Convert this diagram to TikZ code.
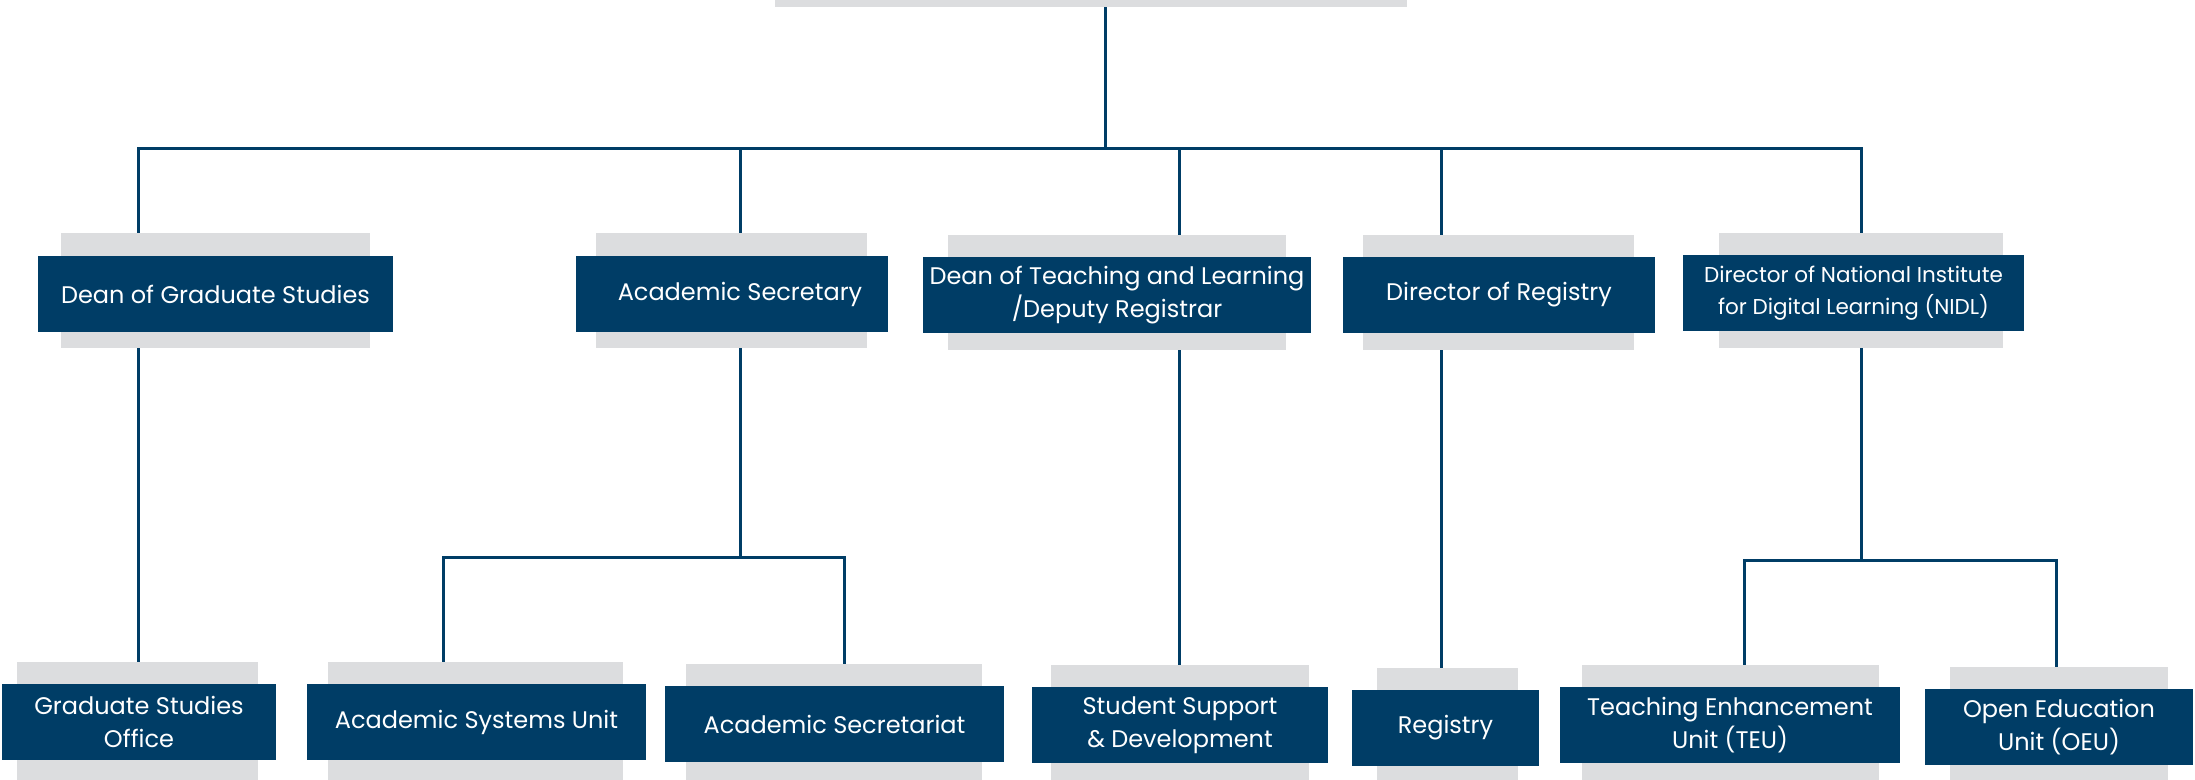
\documentclass[tikz,border=0pt]{standalone}
\usepackage{fontspec}
\setmainfont{Poppins}
\usetikzlibrary{calc}
\definecolor{navy}{RGB}{0,61,102}
\definecolor{shade}{RGB}{220,221,223}

\begin{document}
\begin{tikzpicture}[x=1pt, y=-1pt,
  unit/.style={fill=navy, text=white, align=center, minimum height=76pt, inner sep=0pt,
    font=\fontsize{24}{33}\selectfont},
  backing/.style={fill=shade, minimum height=115pt, inner sep=0pt},
  lowbacking/.style={backing, minimum height=120pt},
  link/.style={navy, line width=3pt}]
  \useasboundingbox (0,0) rectangle (2195,779);
  \clip (0,0) rectangle (2195,779);

  % top of the chart
  \node [backing, minimum width=632pt, minimum height=40pt] (head) at (1091,-13) {};

  % first level
  \node [backing, minimum width=309pt] (dgs-bg) at (215.5,290.5) {};
  \node [unit, minimum width=355pt] (dgs) at (215.5,294) {Dean of Graduate Studies};
  \node [backing, minimum width=271pt] (as-bg) at (731.5,290.5) {};
  \node [unit, minimum width=312pt] (as) at (732,294) {\hspace{16pt}Academic Secretary};
  \node [backing, minimum width=338pt] (dtl-bg) at (1117,292.5) {};
  \node [unit, minimum width=388pt] (dtl) at (1117,295) {Dean of Teaching and Learning\\/Deputy Registrar};
  \node [backing, minimum width=271pt] (dr-bg) at (1498.5,292.5) {};
  \node [unit, minimum width=312pt] (dr) at (1499,295) {Director of Registry};
  \node [backing, minimum width=284pt] (nidl-bg) at (1861,290.5) {};
  \node [unit, minimum width=341pt, font=\fontsize{21.5}{32}\selectfont] (nidl) at (1853.5,293)
    {Director of National Institute\\for Digital Learning (NIDL)};

  % second level
  \node [lowbacking, minimum width=241pt] (gso-bg) at (137.5,722) {};
  \node [unit, minimum width=274pt] (gso) at (139,722) {Graduate Studies\\Office};
  \node [lowbacking, minimum width=295pt] (asu-bg) at (475.5,722) {};
  \node [unit, minimum width=339pt] (asu) at (476.5,722) {Academic Systems Unit};
  \node [lowbacking, minimum width=296pt] (asec-bg) at (834,724) {};
  \node [unit, minimum width=339pt] (asec) at (834.5,724) {Academic Secretariat};
  \node [lowbacking, minimum width=258pt] (ssd-bg) at (1180,725) {};
  \node [unit, minimum width=296pt] (ssd) at (1180,725) {Student Support\\\& Development};
  \node [lowbacking, minimum width=141pt] (reg-bg) at (1447.5,728) {};
  \node [unit, minimum width=187pt] (reg) at (1445.5,728) {Registry};
  \node [lowbacking, minimum width=297pt] (teu-bg) at (1730.5,725) {};
  \node [unit, minimum width=340pt] (teu) at (1730,725) {Teaching Enhancement\\Unit (TEU)};
  \node [lowbacking, minimum width=218pt] (oeu-bg) at (2059,727) {};
  \node [unit, minimum width=268pt] (oeu) at (2059,727) {Open Education\\Unit (OEU)};

  % main bus
  \coordinate (bus) at (1105,148);
  \coordinate (t1) at (138,148);
  \coordinate (t2) at (740,148);
  \coordinate (t3) at (1179,148);
  \coordinate (t4) at (1441,148);
  \coordinate (t5) at (1861,148);
  \draw [link] (head.south -| bus) -- (bus);
  \draw [link] (t1 |- dgs-bg.north) -- (t1) -- (t5) -- (t5 |- nidl-bg.north);
  \draw [link] (t2) -- (t2 |- as-bg.north);
  \draw [link] (t3) -- (t3 |- dtl-bg.north);
  \draw [link] (t4) -- (t4 |- dr-bg.north);

  % single links down
  \draw [link] (t1 |- dgs-bg.south) -- (t1 |- gso-bg.north);
  \draw [link] (t3 |- dtl-bg.south) -- (t3 |- ssd-bg.north);
  \draw [link] (t4 |- dr-bg.south) -- (t4 |- reg-bg.north);

  % academic secretary branch
  \coordinate (as-bus) at (740,557);
  \coordinate (s1) at (443,557);
  \coordinate (s2) at (844,557);
  \draw [link] (t2 |- as-bg.south) -- (as-bus);
  \draw [link] (s1 |- asu-bg.north) -- (s1) -- (s2) -- (s2 |- asec-bg.north);

  % nidl branch
  \coordinate (n-bus) at (1861,560);
  \coordinate (n1) at (1744,560);
  \coordinate (n2) at (2056,560);
  \draw [link] (t5 |- nidl-bg.south) -- (n-bus);
  \draw [link] (n1 |- teu-bg.north) -- (n1) -- (n2) -- (n2 |- oeu-bg.north);
\end{tikzpicture}
\end{document}
